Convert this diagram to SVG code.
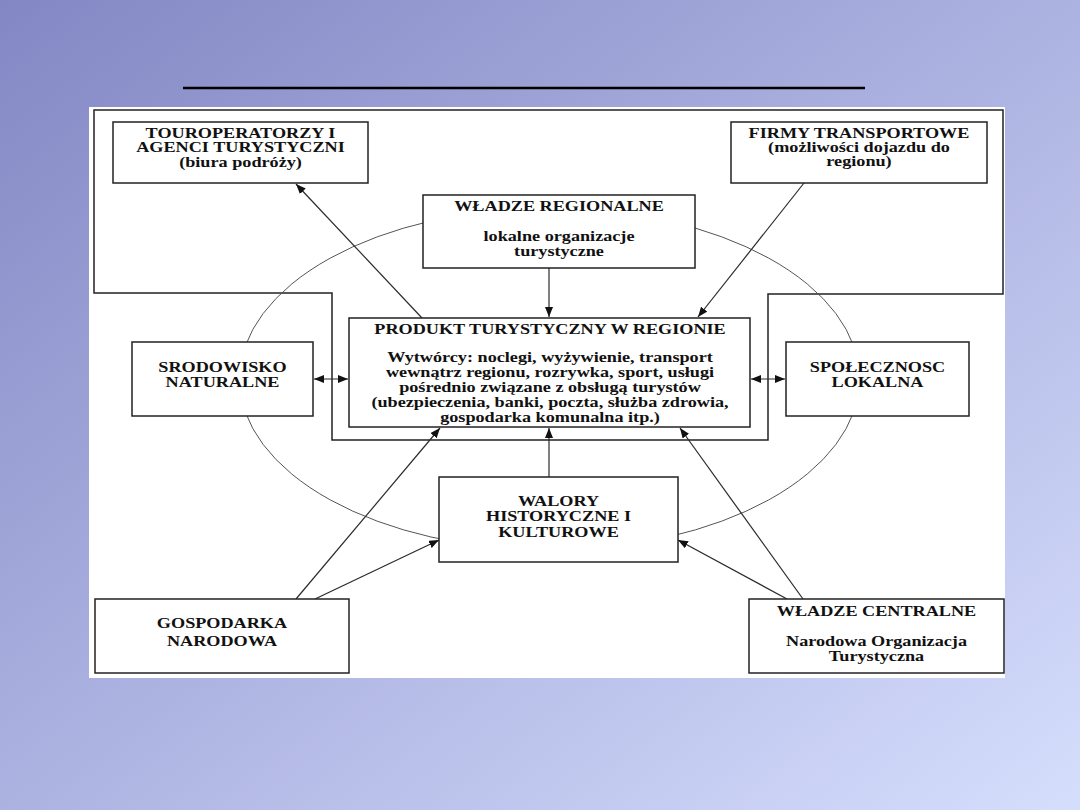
<svg xmlns="http://www.w3.org/2000/svg" width="1080" height="810" viewBox="0 0 1080 810">
<defs>
<linearGradient id="bg" x1="0" y1="0" x2="1" y2="1">
<stop offset="0" stop-color="#8387c4"/>
<stop offset="1" stop-color="#d6defd"/>
</linearGradient>
<marker id="ah" markerUnits="userSpaceOnUse" markerWidth="10" markerHeight="8" refX="10" refY="4" orient="auto-start-reverse">
<path d="M0,0 L10,4 L0,8 z" fill="#111"/>
</marker>
<style>
.box{fill:#fff;stroke:#222;stroke-width:1.5}
.t{font-family:"Liberation Serif","Times New Roman",serif;font-weight:bold;font-size:14px;fill:#111;text-anchor:middle}
.c{fill:none;stroke:#2a2a2a;stroke-width:1.2}
.a{marker-end:url(#ah)}
.d{marker-start:url(#ah);marker-end:url(#ah)}
</style>
</defs>
<rect width="1080" height="810" fill="url(#bg)"/>
<line x1="183" y1="88" x2="865" y2="88" stroke="#000" stroke-width="2.5"/>
<rect x="89" y="107" width="916" height="571" fill="#fff"/>
<polygon points="94,110 1003,110 1003,294 768,294 768,440 332,440 332,293 94,293" fill="none" stroke="#222" stroke-width="1.5"/>
<ellipse cx="549.5" cy="379" rx="310" ry="171" fill="none" stroke="#555" stroke-width="1"/>
<g id="connectors">
<line class="c a" x1="422" y1="318" x2="296" y2="184"/>
<line class="c a" x1="804" y1="183" x2="698" y2="317"/>
<line class="c a" x1="549" y1="268" x2="549" y2="317"/>
<line class="c d" x1="314" y1="379" x2="348" y2="379"/>
<line class="c d" x1="751" y1="379" x2="785" y2="379"/>
<line class="c a" x1="549" y1="477" x2="549" y2="428"/>
<line class="c a" x1="296" y1="599" x2="440" y2="428"/>
<line class="c a" x1="315" y1="599" x2="439" y2="540"/>
<line class="c a" x1="803" y1="599" x2="680" y2="428"/>
<line class="c a" x1="787" y1="599" x2="678" y2="540"/>
</g>
<g id="touroperatorzy">
<rect class="box" x="113" y="122" width="255" height="61"/>
<text class="t" transform="translate(240.5,0) scale(1.3,1)"><tspan x="0" y="138.5">TOUROPERATORZY I</tspan><tspan x="0" y="152.5">AGENCI TURYSTYCZNI</tspan><tspan x="0" y="167.5">(biura podróży)</tspan></text>
</g>
<g id="firmy-transportowe">
<rect class="box" x="731" y="122" width="256" height="61"/>
<text class="t" transform="translate(859,0) scale(1.3,1)"><tspan x="0" y="138.5">FIRMY TRANSPORTOWE</tspan><tspan x="0" y="152.5">(możliwości dojazdu do</tspan><tspan x="0" y="166.5">regionu)</tspan></text>
</g>
<g id="wladze-regionalne">
<rect class="box" x="423" y="195" width="272" height="73"/>
<text class="t" transform="translate(559,0) scale(1.3,1)"><tspan x="0" y="211.5">WŁADZE REGIONALNE</tspan><tspan x="0" y="241.5">lokalne organizacje</tspan><tspan x="0" y="256.5">turystyczne</tspan></text>
</g>
<g id="produkt">
<rect class="box" x="349" y="318" width="401" height="109"/>
<text class="t" transform="translate(550,0) scale(1.3,1)"><tspan x="0" y="334.5">PRODUKT TURYSTYCZNY W REGIONIE</tspan><tspan x="0" y="362.5">Wytwórcy: noclegi, wyżywienie, transport</tspan><tspan x="0" y="377.5">wewnątrz regionu, rozrywka, sport, usługi</tspan><tspan x="0" y="392">pośrednio związane z obsługą turystów</tspan><tspan x="0" y="407">(ubezpieczenia, banki, poczta, służba zdrowia,</tspan><tspan x="0" y="422">gospodarka komunalna itp.)</tspan></text>
</g>
<g id="srodowisko">
<rect class="box" x="132" y="342" width="181" height="74"/>
<text class="t" transform="translate(222.5,0) scale(1.3,1)"><tspan x="0" y="372.5">SRODOWISKO</tspan><tspan x="0" y="387.5">NATURALNE</tspan></text>
</g>
<g id="spolecznosc">
<rect class="box" x="786" y="342" width="183" height="74"/>
<text class="t" transform="translate(877.5,0) scale(1.3,1)"><tspan x="0" y="372.5">SPOŁECZNOSC</tspan><tspan x="0" y="387.5">LOKALNA</tspan></text>
</g>
<g id="walory">
<rect class="box" x="439" y="477" width="239" height="85"/>
<text class="t" transform="translate(558.5,0) scale(1.3,1)"><tspan x="0" y="506.5">WALORY</tspan><tspan x="0" y="521.5">HISTORYCZNE I</tspan><tspan x="0" y="537">KULTUROWE</tspan></text>
</g>
<g id="gospodarka">
<rect class="box" x="95" y="599" width="254" height="74"/>
<text class="t" transform="translate(222,0) scale(1.3,1)"><tspan x="0" y="628.5">GOSPODARKA</tspan><tspan x="0" y="646">NARODOWA</tspan></text>
</g>
<g id="wladze-centralne">
<rect class="box" x="749" y="599" width="255" height="74"/>
<text class="t" transform="translate(876.5,0) scale(1.3,1)"><tspan x="0" y="616.5">WŁADZE CENTRALNE</tspan><tspan x="0" y="646.5">Narodowa Organizacja</tspan><tspan x="0" y="661.5">Turystyczna</tspan></text>
</g>
</svg>
